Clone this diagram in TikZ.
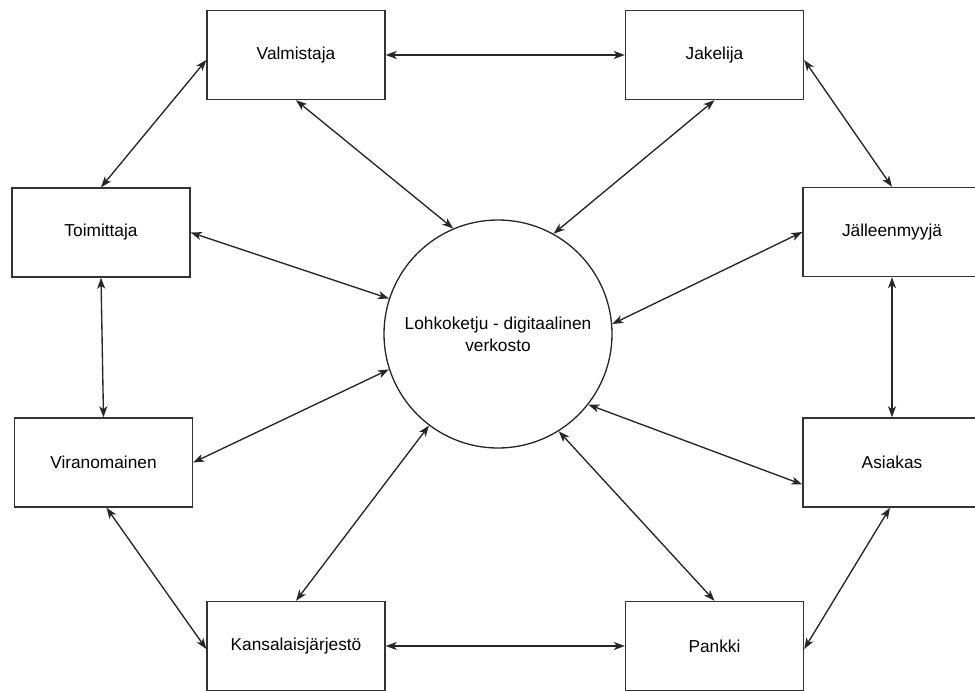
\documentclass[tikz,border=0pt]{standalone}
\usepackage{fontspec}
\setmainfont{Liberation Sans}
\usetikzlibrary{arrows.meta}
\begin{document}
\begin{tikzpicture}[x=1pt,y=-1pt,
  actor/.style={draw=black!80, line width=1.4pt, fill=white, rectangle,
    minimum width=178pt, minimum height=89pt, inner sep=0pt,
    font=\fontsize{17.3}{21}\selectfont},
  hub/.style={draw=black!85, line width=1.3pt, fill=white, circle,
    minimum size=228pt, inner sep=0pt, align=center,
    font=\fontsize{17.3}{21.7}\selectfont},
  link/.style={draw=black!85, line width=1.35pt,
    {Stealth[length=11pt,width=8pt,inset=3pt]}-{Stealth[length=11pt,width=8pt,inset=3pt]}}
]
\useasboundingbox (0,0) rectangle (975,691);
\clip (0,0) rectangle (975,691);

% central network
\node[hub] (net) at (498,334) {Lohkoketju - digitaalinen\\verkosto};

% participants
\node[actor] (valm) at (296,55)    {Valmistaja};
\node[actor] (jak)  at (714.5,55)  {Jakelija};
\node[actor] (toim) at (101,232.5) {Toimittaja};
\node[actor] (jall) at (892,232)   {Jälleenmyyjä};
\node[actor] (vir)  at (103.5,462.5) {Viranomainen};
\node[actor] (asi)  at (892,462.5) {Asiakas};
\node[actor] (kans) at (296,646)   {Kansalaisjärjestö};
\node[actor] (pank) at (714.5,646) {Pankki};

% ring of neighbours
\draw[link] (valm.east) -- (jak.west);
\draw[link] ([yshift=-5pt]valm.west) -- (toim.north);
\draw[link] ([yshift=-5pt]jak.east) -- (jall.north);
\draw[link] (toim.south) -- (vir.north);
\draw[link] (jall.south) -- (asi.north);
\draw[link] ([xshift=3pt]vir.south) -- ([yshift=-3pt]kans.west);
\draw[link] ([xshift=-2pt]asi.south) -- ([yshift=-3pt]pank.east);
\draw[link] (kans.east) -- (pank.west);

% spokes to the network
\draw[link] (valm.south) -- (net.113);
\draw[link] (jak.south) -- (net.61);
\draw[link] (toim.east) -- (net.162);
\draw[link] (jall.west) -- (net.5);
\draw[link] (vir.east) -- (net.198);
\draw[link] ([yshift=-22pt]asi.west) -- (net.-38);
\draw[link] (kans.north) -- (net.233);
\draw[link] (pank.north) -- (net.-58);
\end{tikzpicture}
\end{document}
